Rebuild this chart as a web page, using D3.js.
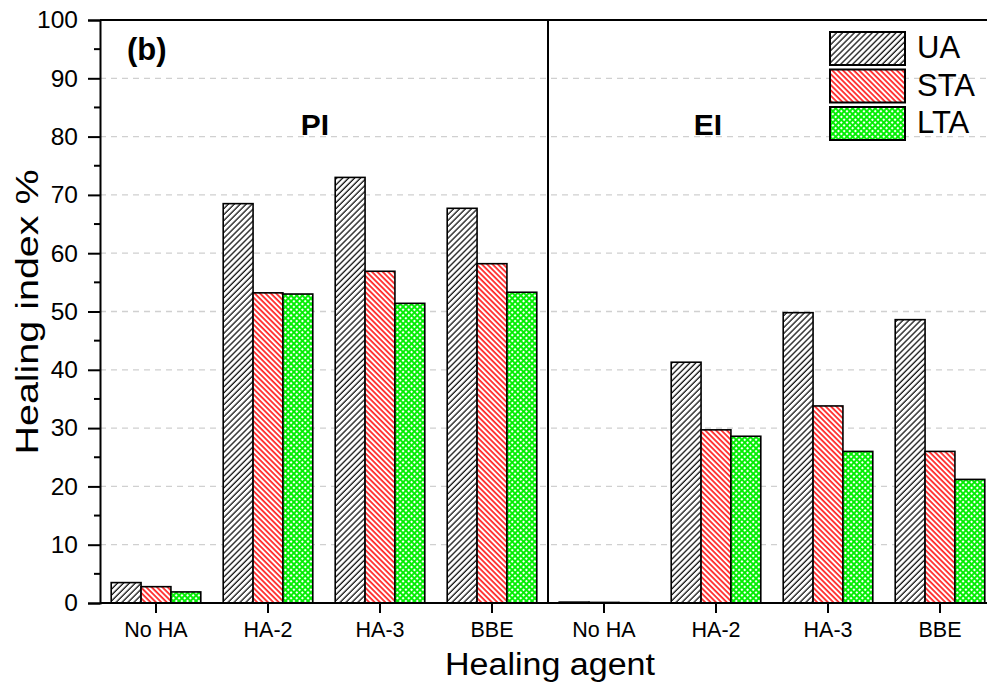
<!DOCTYPE html>
<html>
<head>
<meta charset="utf-8">
<script src="https://cdn.jsdelivr.net/npm/d3@7"></script>
<style>
  body { margin: 0; background: #fff; }
  svg { display: block; font-family: "Liberation Sans", Arial, sans-serif; }
</style>
</head>
<body>
<div id="chart"></div>
<script>
'use strict';

// data
var panels = ["PI", "EI"];
var agents = ["No HA", "HA-2", "HA-3", "BBE"];
var seriesNames = ["UA", "STA", "LTA"];
var uaValues  = [3.5, 68.5, 73.0, 67.7, 0.15, 41.3, 49.8, 48.6];
var staValues = [2.8, 53.2, 56.9, 58.2, 0.1, 29.7, 33.8, 26.0];
var ltaValues = [1.9, 53.0, 51.4, 53.3, 0.05, 28.6, 26.0, 21.2];
var yTicks = [0, 10, 20, 30, 40, 50, 60, 70, 80, 90, 100];

var width = 987, height = 682,
    plotLeft = 100, plotTop = 20, plotBottom = 603, plotRight = 996;

var groups = [];
panels.forEach(function (p) {
  agents.forEach(function (a) { groups.push(p + "|" + a); });
});
var valuesBySeries = { UA: uaValues, STA: staValues, LTA: ltaValues };

var svg = d3.select("#chart").append("svg")
  .attr("width", width)
  .attr("height", height);

// patterns
var defs = svg.append("defs");
var pUA = defs.append("pattern").attr("id", "pUA")
  .attr("patternUnits", "userSpaceOnUse").attr("width", 4.2).attr("height", 10)
  .attr("patternTransform", "rotate(45)");
pUA.append("rect").attr("width", 4.2).attr("height", 10).attr("fill", "#fff");
pUA.append("line").attr("x1", 1).attr("x2", 1).attr("y1", 0).attr("y2", 10)
  .attr("stroke", "#000").attr("stroke-width", 1.2);

var pSTA = defs.append("pattern").attr("id", "pSTA")
  .attr("patternUnits", "userSpaceOnUse").attr("width", 3.8).attr("height", 10)
  .attr("patternTransform", "rotate(-45)");
pSTA.append("rect").attr("width", 3.8).attr("height", 10).attr("fill", "#fff");
pSTA.append("line").attr("x1", 1).attr("x2", 1).attr("y1", 0).attr("y2", 10)
  .attr("stroke", "#ff0000").attr("stroke-width", 1.5);

var pLTA = defs.append("pattern").attr("id", "pLTA")
  .attr("patternUnits", "userSpaceOnUse").attr("width", 4).attr("height", 4)
  .attr("patternTransform", "rotate(45)");
pLTA.append("rect").attr("width", 4).attr("height", 4).attr("fill", "#fff");
pLTA.append("line").attr("x1", 1).attr("x2", 1).attr("y1", 0).attr("y2", 4)
  .attr("stroke", "#00ee00").attr("stroke-width", 1.9);
pLTA.append("line").attr("y1", 1).attr("y2", 1).attr("x1", 0).attr("x2", 4)
  .attr("stroke", "#00ee00").attr("stroke-width", 1.9);

var fills = { UA: "url(#pUA)", STA: "url(#pSTA)", LTA: "url(#pLTA)" };

// scales
var x0 = d3.scaleBand().domain(groups).range([plotLeft, plotRight])
  .paddingInner(0.2).paddingOuter(0.1);
var x1 = d3.scaleBand().domain(seriesNames).range([0, x0.bandwidth()]);
var y = d3.scaleLinear().domain([0, 100]).range([plotBottom, plotTop]);

// grid
svg.append("g").selectAll("line")
  .data(yTicks.filter(function (d) { return d > 0 && d < 100; }))
  .enter().append("line")
  .attr("x1", plotLeft).attr("x2", plotRight)
  .attr("y1", function (d) { return y(d); })
  .attr("y2", function (d) { return y(d); })
  .attr("stroke", "#d0d0d0").attr("stroke-width", 1.3)
  .attr("stroke-dasharray", "6,5");

// bars
var bars = svg.append("g").selectAll("g")
  .data(groups).enter().append("g")
  .attr("transform", function (d) { return "translate(" + x0(d) + ",0)"; });

bars.selectAll("rect")
  .data(function (d, i) {
    return seriesNames.map(function (s) { return { s: s, v: valuesBySeries[s][i] }; });
  })
  .enter().append("rect")
  .attr("x", function (d) { return x1(d.s); })
  .attr("width", x1.bandwidth())
  .attr("y", function (d) { return y(d.v); })
  .attr("height", function (d) { return y(0) - y(d.v); })
  .attr("fill", function (d) { return fills[d.s]; })
  .attr("stroke", "#000").attr("stroke-width", 1.6);

// divider between PI and EI
var mid = (x0(groups[3]) + x0.bandwidth() + x0(groups[4])) / 2;
svg.append("line")
  .attr("x1", mid).attr("x2", mid).attr("y1", plotTop).attr("y2", plotBottom)
  .attr("stroke", "#000").attr("stroke-width", 2);

// frame: top line
svg.append("line").attr("x1", plotLeft).attr("x2", plotRight)
  .attr("y1", plotTop).attr("y2", plotTop)
  .attr("stroke", "#000").attr("stroke-width", 2);

// y axis
var yAxis = svg.append("g")
  .attr("transform", "translate(" + plotLeft + ",0)")
  .call(d3.axisLeft(y).tickValues(yTicks).tickSize(12).tickPadding(10));
yAxis.select(".domain").attr("stroke-width", 2);
yAxis.selectAll(".tick line").attr("stroke-width", 2);
yAxis.selectAll("text").attr("font-size", 24.5).attr("fill", "#000")
  .attr("font-family", "Liberation Sans, Arial, sans-serif");
svg.append("g").selectAll("line")
  .data(d3.range(5, 100, 10)).enter().append("line")
  .attr("x1", plotLeft - 6).attr("x2", plotLeft)
  .attr("y1", function (d) { return y(d); })
  .attr("y2", function (d) { return y(d); })
  .attr("stroke", "#000").attr("stroke-width", 2);

// x axis
var xAxis = svg.append("g")
  .attr("transform", "translate(0," + plotBottom + ")")
  .call(d3.axisBottom(x0).tickSize(10).tickPadding(9)
    .tickFormat(function (d) { return d.split("|")[1]; }));
xAxis.select(".domain").attr("stroke-width", 2).attr("d", "M" + plotLeft + ",0H" + plotRight);
xAxis.selectAll(".tick line").attr("stroke-width", 2);
xAxis.selectAll("text").attr("font-size", 21.5).attr("fill", "#000")
  .attr("font-family", "Liberation Sans, Arial, sans-serif");

// axis titles
svg.append("text")
  .attr("x", 550).attr("y", 675)
  .attr("text-anchor", "middle").attr("font-size", 31)
  .attr("textLength", 210).attr("lengthAdjust", "spacingAndGlyphs")
  .text("Healing agent");
svg.append("text")
  .attr("transform", "translate(38,312) rotate(-90)")
  .attr("text-anchor", "middle").attr("font-size", 31)
  .attr("textLength", 285).attr("lengthAdjust", "spacingAndGlyphs")
  .text("Healing index %");

// panel labels
svg.append("text").attr("x", 127).attr("y", 60)
  .attr("font-size", 31).attr("font-weight", "bold").text("(b)");
svg.append("text").attr("x", 315).attr("y", 135)
  .attr("text-anchor", "middle").attr("font-size", 30).attr("font-weight", "bold")
  .text(panels[0]);
svg.append("text").attr("x", 708).attr("y", 135)
  .attr("text-anchor", "middle").attr("font-size", 30).attr("font-weight", "bold")
  .text(panels[1]);

// legend
var legend = svg.append("g").selectAll("g")
  .data(seriesNames).enter().append("g")
  .attr("transform", function (d, i) { return "translate(830," + (32 + i * 37.5) + ")"; });
legend.append("rect")
  .attr("width", 75).attr("height", 33)
  .attr("fill", function (d) { return fills[d]; })
  .attr("stroke", "#000").attr("stroke-width", 2);
legend.append("text")
  .attr("x", 87).attr("y", 26)
  .attr("font-size", 31)
  .text(function (d) { return d; });
</script>
</body>
</html>
